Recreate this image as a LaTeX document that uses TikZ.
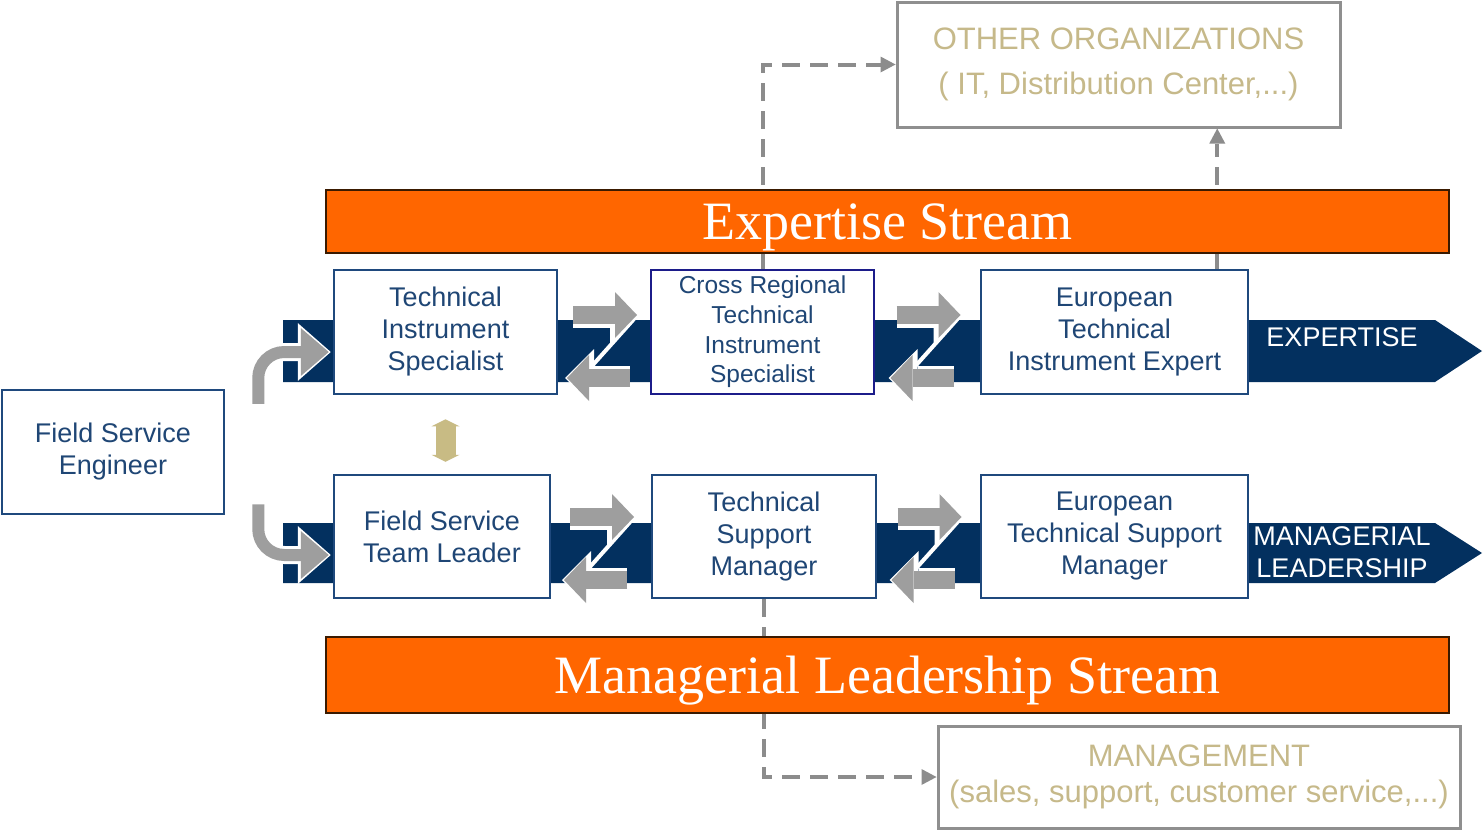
\documentclass[tikz,border=0pt]{standalone}
\usepackage{fontspec}
\setmainfont{Liberation Sans}
\newfontfamily\streamfont{Liberation Serif}
\usetikzlibrary{positioning, arrows.meta, calc}

\definecolor{navy}{HTML}{03305F}
\definecolor{boxblue}{HTML}{1F497D}
\definecolor{crtblue}{HTML}{1C1C8A}
\definecolor{textblue}{HTML}{1F4675}
\definecolor{flowgrey}{HTML}{9E9E9E}
\definecolor{linkgrey}{HTML}{8C8C8C}
\definecolor{boxgrey}{HTML}{8F8F8F}
\definecolor{tantext}{HTML}{C6B98A}
\definecolor{tanfill}{HTML}{C8BB84}
\definecolor{streamorange}{HTML}{FF6600}
\definecolor{streamedge}{HTML}{3A1A00}

\begin{document}
\begin{tikzpicture}[
    x=1pt, y=-1pt,
    box/.style={draw=boxblue, line width=2.5pt, fill=white, text=textblue, align=center, inner sep=2pt, minimum height=124pt, font=\fontsize{27}{32}\selectfont},
    orgbox/.style={draw=boxgrey, line width=3pt, fill=white, text=tantext, align=center, font=\fontsize{31}{45}\selectfont},
    stream/.style={draw=streamedge, line width=1.5pt, fill=streamorange, text=white, minimum width=1123pt, font=\streamfont\fontsize{54}{60}\selectfont, text height=36pt, text depth=0pt},
    tag/.style={text=white, align=center, font=\fontsize{27}{32}\selectfont},
    band/.style={fill=navy},
    flow/.style={draw=flowgrey, line width=18pt, -{Triangle[length=22pt,width=46pt,line width=0pt]}},
    halo/.style={draw=white, line width=25pt, -{Triangle[length=29pt,width=58pt,line width=0pt]}},
    curl/.style={draw=flowgrey, line width=12pt, rounded corners=26pt, -{Triangle[length=28pt,width=48pt,line width=0pt]}},
    curlhalo/.style={draw=white, line width=18pt, rounded corners=26pt, -{Triangle[length=33pt,width=58pt,line width=0pt]}},
    tanarrow/.style={draw=tanfill, line width=20pt, {Triangle[length=7pt,width=28pt,line width=0pt]}-{Triangle[length=7pt,width=28pt,line width=0pt]}},
    link/.style={draw=linkgrey, line width=4pt, dash pattern=on 18pt off 10pt, -{Triangle[length=15pt,width=16pt,line width=0pt]}}
]
\useasboundingbox (0,0) rectangle (1484,830);

\coordinate (tup) at (0,315);
\coordinate (tdn) at (0,378);
\coordinate (tband) at (0,352);
\coordinate (bup) at (0,517);
\coordinate (bdn) at (0,580);
\coordinate (bband) at (0,555);

\fill[band] (283,320) -- (1435,320) -- (1482,351) -- (1435,382) -- (283,382) -- cycle;
\fill[band] (283,523) -- (1435,523) -- (1482,553) -- (1435,583) -- (283,583) -- cycle;

\node[box, minimum width=222pt] (fse) at (113,452) {Field Service\\Engineer};

\node[box, minimum width=223pt] (tis) at (445.5,332) {Technical\\Instrument\\Specialist};
\node[box, minimum width=223pt, draw=crtblue, font=\fontsize{24.5}{29.7}\selectfont, right=91.5pt of tis] (crt) {Cross Regional\\Technical\\Instrument\\Specialist};
\node[box, minimum width=267pt, right=104.5pt of crt] (etie) {European\\Technical\\Instrument Expert};

\node[box, minimum width=216pt, minimum height=123pt, below=78.5pt of tis.south west, anchor=north west] (fstl) {Field Service\\Team Leader};
\node[box, minimum width=224pt, minimum height=123pt, right=99.5pt of fstl] (tsm) {Technical\\Support\\Manager};
\node[box, minimum width=267pt, minimum height=123pt, right=102.5pt of tsm] (etsm) {European\\Technical Support\\Manager};

\node[tag] (xtag) at (1342,337) {EXPERTISE};
\node[tag] (mtag) at (1342,552) {MANAGERIAL\\LEADERSHIP};

\foreach \lft/\rgt/\hi/\lo in {tis/crt/tup/tdn, crt/etie/tup/tdn, fstl/tsm/bup/bdn, tsm/etsm/bup/bdn} {
  \coordinate (gap) at ($(\lft.east)!0.5!(\rgt.west)$);
  \draw[white, line width=4pt] ($(gap |- \lo)+(-30,8)$) -- ($(gap |- \hi)+(30,4)$);
  \draw[halo] ($(gap |- \hi)+(-31,0)$) -- ($(gap |- \hi)+(35,0)$);
  \draw[flow] ($(gap |- \hi)+(-31,0)$) -- ($(gap |- \hi)+(33,0)$);
  \draw[halo] ($(gap |- \lo)+(26,0)$) -- ($(gap |- \lo)+(-39,0)$);
  \draw[flow] ($(gap |- \lo)+(26,0)$) -- ($(gap |- \lo)+(-37,0)$);
}

\coordinate (fsetop) at ($(fse.north east)+(33,15)$);
\coordinate (fsebot) at ($(fse.south east)+(33,-11)$);
\draw[curlhalo] (fsetop) |- ($(tis.west |- tband)+(-2,0)$);
\draw[curl] (fsetop) |- ($(tis.west |- tband)+(-4,0)$);
\draw[curlhalo] (fsebot) |- ($(fstl.west |- bband)+(-2,0)$);
\draw[curl] (fsebot) |- ($(fstl.west |- bband)+(-4,0)$);

\draw[tanarrow] ($(tis.south)+(0,24)$) -- ($(tis.south |- fstl.north)+(0,-12)$);

\node[orgbox, minimum width=443pt, minimum height=125pt] (other) at (1118.5,64.5) {OTHER ORGANIZATIONS\\( IT, Distribution Center,...)};
\node[orgbox, minimum width=522pt, minimum height=102pt, font=\fontsize{31}{36}\selectfont] (mgmt) at (1199,777) {MANAGEMENT\\(sales, support, customer service,...)};

\draw[link] (crt.north) |- (other.west);
\coordinate (eup) at ($(etie.north east)+(-32,0)$);
\draw[link] (eup) -- (eup |- other.south);
\draw[link] (tsm.south) |- (mgmt.west);

\node[stream, minimum height=63pt] (xstream) at (887.5,221.5) {Expertise Stream};
\node[stream, minimum height=76pt] (mstream) at (887.5,675) {Managerial Leadership Stream};
\end{tikzpicture}
\end{document}
